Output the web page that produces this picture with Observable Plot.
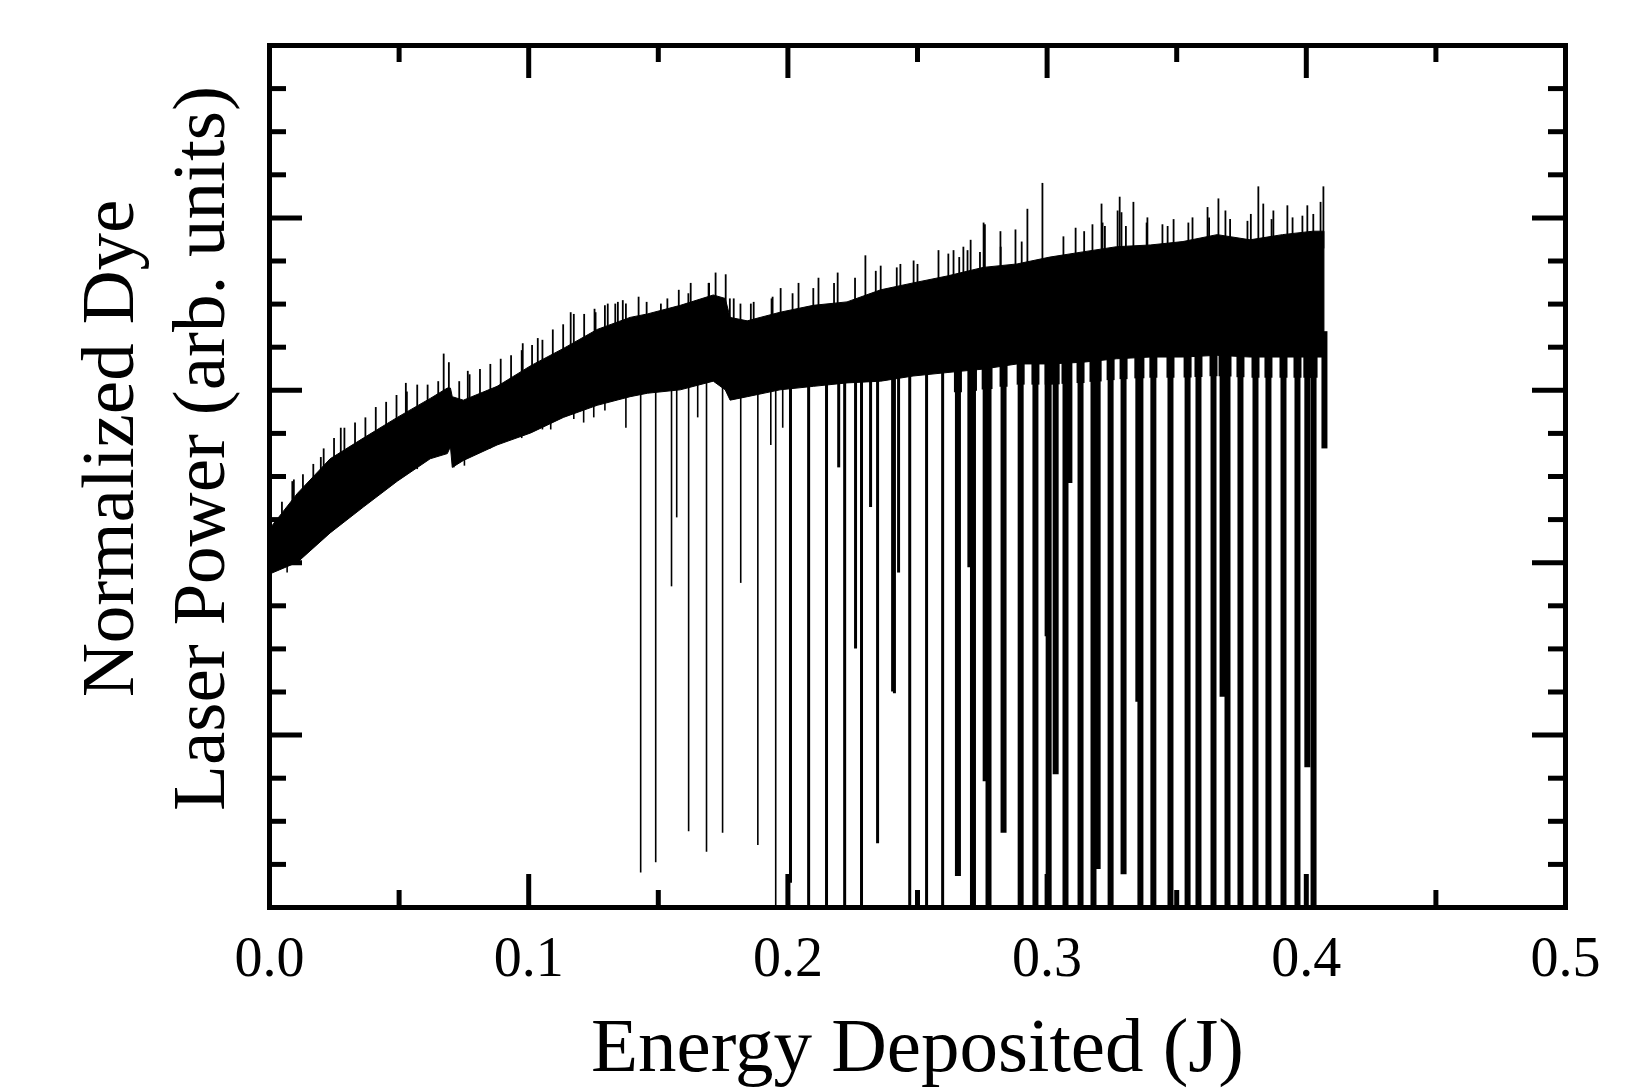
<!DOCTYPE html>
<html><head><meta charset="utf-8">
<script src="https://cdn.jsdelivr.net/npm/d3@7"></script>
<script src="https://cdn.jsdelivr.net/npm/@observablehq/plot@0.6"></script>
<style>html,body{margin:0;padding:0;background:#fff;} svg{display:block}</style>
</head><body><div id="chart"></div>
<script>
// ---- data (x in J, y in arb. units, frame spans 0..5) ----
// dense part of the noisy trace
const bandX      = [0.000,0.011,0.0236,0.0364,0.0495,0.0622,0.0688,0.0700,0.0707,0.075,0.088,0.101,0.1136,0.1266,0.1393,0.146,0.1587,0.1714,0.176,0.1779,0.1845,0.1972,0.210,0.223,0.236,0.2485,0.2616,0.2755,0.2886,0.3013,0.314,0.327,0.340,0.3526,0.3658,0.3785,0.391,0.4028,0.407];
const bandTop    = [2.19,2.40,2.60,2.72,2.84,2.95,3.01,3.01,2.96,2.94,3.02,3.14,3.24,3.35,3.42,3.44,3.49,3.55,3.53,3.42,3.40,3.45,3.49,3.51,3.58,3.62,3.66,3.71,3.73,3.77,3.80,3.83,3.84,3.86,3.90,3.87,3.90,3.92,3.92];
const bandBottom = [1.93,2.00,2.17,2.32,2.47,2.60,2.63,2.67,2.55,2.59,2.68,2.75,2.84,2.91,2.96,2.98,3.00,3.05,3.00,2.94,2.96,3.00,3.02,3.04,3.05,3.08,3.10,3.12,3.15,3.15,3.16,3.18,3.19,3.19,3.20,3.19,3.19,3.19,3.19];

// upward spikes: tops of the noise
const spikeX   = [0.0048,0.0088,0.0094,0.0129,0.0169,0.0198,0.0209,0.0249,0.0275,0.0289,0.033,0.037,0.041,0.045,0.049,0.0526,0.053,0.057,0.061,0.0651,0.0672,0.0692,0.0732,0.0765,0.0772,0.0812,0.0852,0.0892,0.0932,0.0973,0.0977,0.1013,0.1035,0.1053,0.1093,0.1133,0.1162,0.1174,0.1214,0.1254,0.1258,0.1294,0.1305,0.1334,0.1344,0.1363,0.1375,0.1424,0.1455,0.151,0.1535,0.1579,0.1616,0.1625,0.1694,0.1696,0.1721,0.176,0.1776,0.1791,0.1817,0.1857,0.1868,0.1937,0.1941,0.1972,0.2018,0.2041,0.2098,0.2118,0.2178,0.2192,0.2259,0.2299,0.2339,0.2358,0.242,0.2434,0.2485,0.25,0.2581,0.2619,0.2639,0.2661,0.2677,0.2693,0.2705,0.2741,0.2755,0.276,0.282,0.2821,0.2878,0.2902,0.2924,0.2982,0.3063,0.311,0.3143,0.3175,0.321,0.3214,0.3223,0.3272,0.328,0.3287,0.3304,0.3333,0.3384,0.3387,0.3445,0.3465,0.3488,0.3545,0.3561,0.3619,0.3625,0.3661,0.3688,0.3706,0.3773,0.3786,0.3815,0.3834,0.3866,0.3873,0.3927,0.3947,0.3985,0.4004,0.4027,0.4055,0.4066];
const spikeTop = [2.35,2.47,2.48,2.51,2.57,2.61,2.66,2.72,2.78,2.78,2.81,2.84,2.90,2.93,2.97,3.04,2.99,3.03,3.03,3.05,3.21,3.16,3.05,3.11,3.09,3.12,3.15,3.18,3.20,3.23,3.27,3.26,3.30,3.29,3.35,3.38,3.45,3.44,3.44,3.47,3.45,3.49,3.50,3.50,3.51,3.52,3.50,3.54,3.51,3.50,3.53,3.58,3.56,3.62,3.62,3.62,3.68,3.67,3.53,3.53,3.50,3.50,3.51,3.53,3.54,3.59,3.56,3.62,3.59,3.65,3.62,3.68,3.65,3.78,3.69,3.72,3.71,3.73,3.75,3.73,3.81,3.79,3.81,3.77,3.83,3.81,3.87,3.80,3.97,3.96,3.92,3.83,3.93,3.86,4.05,4.20,3.89,3.94,3.92,3.96,4.08,3.97,3.95,4.04,4.12,4.03,3.95,4.09,3.97,4.00,3.96,3.95,3.99,3.97,4.00,4.06,4.00,4.11,4.04,3.99,3.98,4.02,4.18,4.08,3.99,4.04,4.07,4.00,4.01,4.07,4.02,4.09,4.18];

// downward excursions (dips) of the trace, and how far they fall
const dipX      = [0.0005,0.0068,0.0075,0.0129,0.0152,0.0169,0.0249,0.0325,0.033,0.0364,0.041,0.049,0.057,0.0649,0.0711,0.0752,0.0852,0.0973,0.1053,0.1085,0.1174,0.1212,0.1251,0.1294,0.1375,0.1432,0.1490,0.1551,0.1571,0.1617,0.1652,0.1686,0.1748,0.1818,0.1884,0.1934,0.1953,0.1980,0.2010,0.2080,0.2149,0.2196,0.2219,0.2261,0.2284,0.2319,0.2346,0.2404,0.2411,0.2427,0.2470,0.2535,0.2597,0.2656,0.2704,0.2714,0.2763,0.2774,0.2832,0.2898,0.2955,0.3002,0.3006,0.3033,0.3071,0.3086,0.3129,0.3179,0.3195,0.3245,0.3295,0.3352,0.3360,0.3410,0.3476,0.3542,0.3584,0.3642,0.3677,0.3696,0.3746,0.3804,0.3854,0.3912,0.3966,0.4004,0.4028,0.4070];
const dipBottom = [1.78,1.94,2.05,2.06,2.19,2.10,2.23,2.40,2.32,2.40,2.41,2.48,2.54,2.63,2.55,2.56,2.66,2.72,2.77,2.77,2.83,2.81,2.84,2.88,2.78,0.20,0.26,1.86,2.26,0.44,2.84,0.32,0.43,1.88,0.36,2.68,0.00,2.78,0.14,0.00,0.00,2.55,0.00,1.50,0.00,2.32,0.37,1.25,1.24,1.94,0.00,0.00,0.00,0.18,1.97,0.00,0.73,0.00,0.43,0.00,0.00,1.57,0.00,0.77,0.00,2.46,0.00,0.00,0.22,0.00,0.19,1.19,0.00,0.00,0.00,0.00,0.00,0.00,1.22,0.00,0.00,0.00,0.00,0.00,0.00,0.81,0.00,2.66];

const xMajorTicks = [0, 0.1, 0.2, 0.3, 0.4, 0.5];
const xTickLabels = ["0.0", "0.1", "0.2", "0.3", "0.4", "0.5"];
const xMinorTicks = [0.05, 0.15, 0.25, 0.35, 0.45];
const yMajorTicks = [1, 2, 3, 4];
const yMinorTicks = [0.25,0.5,0.75,1.25,1.5,1.75,2.25,2.5,2.75,3.25,3.5,3.75,4.25,4.5,4.75];
const xTitle = "Energy Deposited (J)";
const yTitleLines = ["Normalized Dye", "Laser Power (arb. units)"];

// ---- build tables ----
const band = bandX.map((x, i) => ({x, top: bandTop[i], bottom: bandBottom[i]}));
const topAt = d3.scaleLinear().domain(bandX).range(bandTop).clamp(true);
const botAt = d3.scaleLinear().domain(bandX).range(bandBottom).clamp(true);
const spikes = spikeX.map((x, i) => ({x, y1: topAt(x) - 0.1, y2: spikeTop[i]}));
const dips = dipX.map((x, i) => ({x, y1: botAt(x) + 0.15, y2: dipBottom[i]}));
const shoulders = dips.filter(d => d.x >= 0.265 && d.y2 < 1.5).map(d => ({x: d.x, y1: botAt(d.x) + 0.1, y2: botAt(d.x) - 0.12}));

const W = 1635, H = 1088, mL = 269, mR = 70, mT = 45, mB = 181;
const pw = W - mL - mR, ph = H - mT - mB;
const font = "Liberation Serif, Times New Roman, serif";
const majorLen = 33, minorLen = 17, tw = 5;

const chart = Plot.plot({
  width: W, height: H,
  marginLeft: mL, marginRight: mR, marginTop: mT, marginBottom: mB,
  style: {fontFamily: font, background: "#fff", color: "#000"},
  x: {domain: [0, 0.5]},
  y: {domain: [0, 5]},
  marks: [
    Plot.areaY(band, {x: "x", y1: "bottom", y2: "top", fill: "black", stroke: "black", strokeWidth: 1}),
    Plot.ruleX(spikes, {x: "x", y1: "y1", y2: "y2", stroke: "black", strokeWidth: 1.8}),
    Plot.ruleX(dips.filter(d => d.x < 0.2), {x: "x", y1: "y1", y2: "y2", stroke: "black", strokeWidth: 1.6}),
    Plot.ruleX(dips.filter(d => d.x >= 0.2 && d.x < 0.265), {x: "x", y1: "y1", y2: "y2", stroke: "black", strokeWidth: 3}),
    Plot.ruleX(dips.filter(d => d.x >= 0.265), {x: "x", y1: "y1", y2: "y2", stroke: "black", strokeWidth: 6}),
    Plot.ruleX(shoulders, {x: "x", y1: "y1", y2: "y2", stroke: "black", strokeWidth: 8}),
    // inward ticks on all four sides
    Plot.tickX(xMajorTicks, {x: d => d, insetTop: ph - majorLen, stroke: "black", strokeWidth: tw}),
    Plot.tickX(xMajorTicks, {x: d => d, insetBottom: ph - majorLen, stroke: "black", strokeWidth: tw}),
    Plot.tickX(xMinorTicks, {x: d => d, insetTop: ph - minorLen, stroke: "black", strokeWidth: tw}),
    Plot.tickX(xMinorTicks, {x: d => d, insetBottom: ph - minorLen, stroke: "black", strokeWidth: tw}),
    Plot.tickY(yMajorTicks, {y: d => d, insetRight: pw - majorLen, stroke: "black", strokeWidth: tw}),
    Plot.tickY(yMajorTicks, {y: d => d, insetLeft: pw - majorLen, stroke: "black", strokeWidth: tw}),
    Plot.tickY(yMinorTicks, {y: d => d, insetRight: pw - minorLen, stroke: "black", strokeWidth: tw}),
    Plot.tickY(yMinorTicks, {y: d => d, insetLeft: pw - minorLen, stroke: "black", strokeWidth: tw}),
    Plot.frame({stroke: "black", strokeWidth: 5}),
    Plot.axisX(xMajorTicks, {tickSize: 0, tickPadding: 29, tickFormat: d => xTickLabels[xMajorTicks.indexOf(d)], fontSize: 56, fontFamily: font, fill: "black", label: null}),
    Plot.axisY({ticks: [], label: null}),
    Plot.text([xTitle], {frameAnchor: "bottom", dy: 139, textAnchor: "middle", lineAnchor: "middle", fontSize: 77, fontFamily: font, fill: "black"}),
    Plot.text([yTitleLines[0]], {frameAnchor: "left", dx: -161, dy: -28, rotate: -90, textAnchor: "middle", lineAnchor: "middle", fontSize: 75, fontFamily: font, fill: "black"}),
    Plot.text([yTitleLines[1]], {frameAnchor: "left", dx: -70, dy: -28, rotate: -90, textAnchor: "middle", lineAnchor: "middle", fontSize: 75, fontFamily: font, fill: "black"})
  ]
});
document.getElementById("chart").appendChild(chart);
</script>
</body></html>
